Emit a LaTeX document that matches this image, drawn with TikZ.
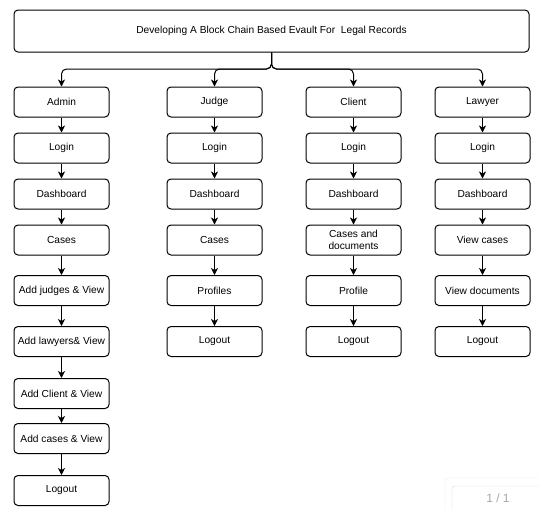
\documentclass[tikz,border=0pt]{standalone}
\usepackage{fontspec}
\setmainfont{Liberation Sans}
\usetikzlibrary{arrows.meta}

\tikzstyle{stepbox}=[draw, line width=1pt, rounded corners=4pt, minimum width=95pt, minimum height=30pt, align=center, font=\fontsize{10.2}{12.3}\selectfont]
\tikzstyle{titlebox}=[stepbox, minimum width=515pt, minimum height=42pt]
\tikzstyle{dep}=[-{Stealth[length=7pt,width=7pt,inset=2pt]}, line width=1pt]

\begin{document}
\begin{tikzpicture}[x=1pt, y=-1pt]
      \useasboundingbox (0,0) rectangle (539,509);
      \node[titlebox] (title) at (271.5, 31) {Developing A Block Chain Based Evault For \ Legal Records};
      % admin column
      \foreach \t/\y [count=\i] in {Admin/102, Login/148, Dashboard/194, Cases/240,
          Add judges \& View/290.5, Add lawyers\& View/341.5, Add Client \& View/393.5,
          Add cases \& View/438.5, Logout/490.5} {%
        \node[stepbox] (a\i) at (61.5, \y) {\t};
      }
      % judge column
      \foreach \t/\y [count=\i] in {Judge/102, Login/148, Dashboard/194, Cases/240,
          Profiles/290.5, Logout/341.5} {%
        \node[stepbox] (j\i) at (214.5, \y) {\t};
      }
      % client column
      \foreach \t/\y [count=\i] in {Client/102, Login/148, Dashboard/194,
          {Cases and\\documents}/240, Profile/290.5, Logout/341.5} {%
        \node[stepbox] (c\i) at (353.5, \y) {\t};
      }
      % lawyer column
      \foreach \t/\y [count=\i] in {Lawyer/102, Login/148, Dashboard/194,
          View cases/240, View documents/290.5, Logout/341.5} {%
        \node[stepbox] (l\i) at (482.5, \y) {\t};
      }
      \coordinate (fork) at (271.5, 69);
      \foreach \n in {a1, j1, c1, l1} {%
        \draw[dep, rounded corners=5pt] (title.south) -- (fork) -| (\n.north);
      }
      \foreach \i [remember=\i as \last (initially 1)] in {2,...,9} {%
        \draw[dep] (a\last) -- (a\i);
      }
      \foreach \col in {j, c, l} {%
        \foreach \i [remember=\i as \last (initially 1)] in {2,...,6} {%
          \draw[dep] (\col\last) -- (\col\i);
        }
      }
      % page counter
      \begin{scope}
        \clip (0,0) rectangle (539,509);
        \draw[black!8, rounded corners=3pt] (445,478) rectangle (560,530);
        \draw[black!15, rounded corners=3pt] (452,486) rectangle (560,530);
        \node[text=black!35, font=\fontsize{12}{14}\selectfont] (page) at (498,498) {1 / 1};
      \end{scope}
    \end{tikzpicture}
\end{document}
